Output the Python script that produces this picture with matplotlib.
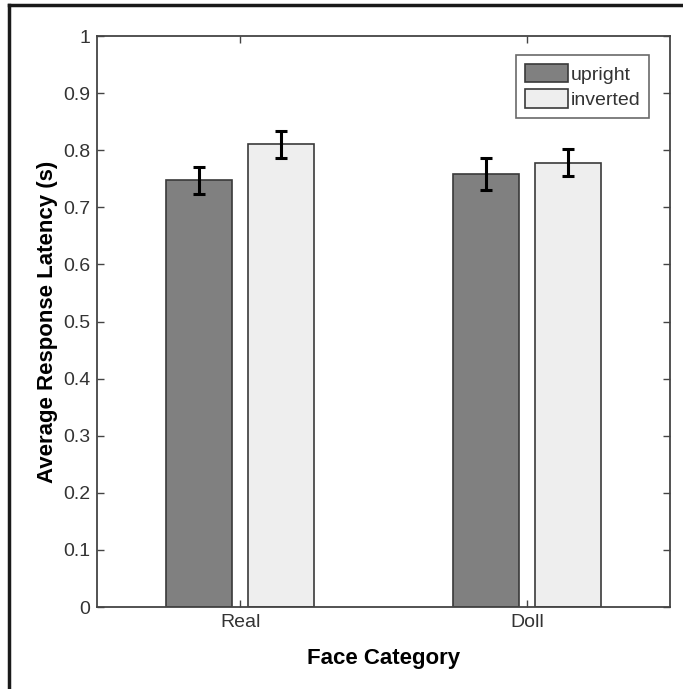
import numpy as np
import matplotlib
matplotlib.use('Agg')
import matplotlib.pyplot as plt
from matplotlib.lines import Line2D

# data
categories = ['Real', 'Doll']
conditions = ['upright', 'inverted']
upright = [0.747, 0.759]
inverted = [0.810, 0.778]
upright_err = [0.024, 0.028]
inverted_err = [0.023, 0.024]
yticks = [0, 0.1, 0.2, 0.3, 0.4, 0.5, 0.6, 0.7, 0.8, 0.9, 1]

plt.rcParams['font.family'] = ['Liberation Sans', 'DejaVu Sans']

fig = plt.figure(figsize=(6.83, 6.89), dpi=100)
ax = fig.add_axes([97/683, (689-607)/689, (670-97)/683, (607-36)/689])

x = np.arange(1, len(categories) + 1)
w = 0.23
off = 0.143
ax.bar(x - off, upright, w, color='#808080', edgecolor='#3a3a3a', linewidth=1.2, label=conditions[0], zorder=2)
ax.bar(x + off, inverted, w, color='#eeeeee', edgecolor='#3a3a3a', linewidth=1.2, label=conditions[1], zorder=2)
ax.errorbar(x - off, upright, yerr=upright_err, fmt='none', ecolor='black', elinewidth=2.2, capsize=4, capthick=2.2, zorder=3)
ax.errorbar(x + off, inverted, yerr=inverted_err, fmt='none', ecolor='black', elinewidth=2.2, capsize=4, capthick=2.2, zorder=3)

ax.set_xlim(0.5, 2.5)
ax.set_ylim(0, 1)
ax.set_xticks(x)
ax.set_xticklabels(categories)
ax.set_yticks(yticks)
ax.set_yticklabels([('%g' % t) for t in yticks])
ax.tick_params(direction='in', length=5, width=1, colors='#444444', labelcolor='#333333',
               labelsize=14, top=True, right=True, pad=5)
for s in ax.spines.values():
    s.set_color('#444444')
    s.set_linewidth(1.3)

ax.set_xlabel('Face Category', fontsize=16, fontweight='bold', labelpad=12)
ax.set_ylabel('Average Response Latency (s)', fontsize=16, fontweight='bold', labelpad=3.5)

leg = ax.legend(loc='upper right', fontsize=14, frameon=True, fancybox=False,
                handlelength=2.2, handleheight=1.08, handletextpad=0.15,
                borderpad=0.45, labelspacing=0.3, borderaxespad=0)
leg.set_bbox_to_anchor((1 - (670-649)/573, 1 - (55-36)/571), transform=ax.transAxes)
leg.get_frame().set_edgecolor('#444444')
leg.get_frame().set_linewidth(1.2)
for t in leg.get_texts():
    t.set_color('#333333')

# outer frame (top and left only)
fig.add_artist(Line2D([9/683, 1], [1 - 5/689, 1 - 5/689], color='#1a1a1a', linewidth=2.5, transform=fig.transFigure))
fig.add_artist(Line2D([9/683, 9/683], [0, 1 - 5/689], color='#1a1a1a', linewidth=2.5, transform=fig.transFigure))

plt.savefig('out.png', dpi=100)
